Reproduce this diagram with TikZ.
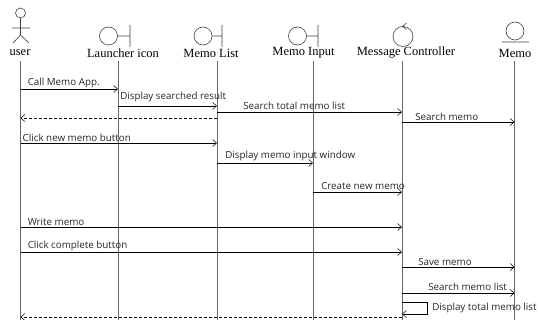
\documentclass[tikz,border=0pt]{standalone}
\usepackage{fontspec}
\setmainfont{Liberation Serif}
\newfontfamily\msgfont{Open Sans}
\usetikzlibrary{arrows.meta}

\begin{document}
\begin{tikzpicture}[x=1pt, y=-1pt, font=\fontsize{12.5}{14}\selectfont,
    msg/.style={draw, -{Straight Barb[length=4pt, width=7pt]}, line width=0.5pt},
    ret/.style={msg, dash pattern=on 3pt off 2pt},
    life/.style={draw, black!60, line width=0.9pt},
    icon/.style={draw, black!75, line width=0.6pt},
    lbl/.style={font=\msgfont\fontsize{9.8}{11}\selectfont, anchor=south west, inner sep=1pt, text=black!85}]
    \useasboundingbox (0,0) rectangle (538,320);
    % Place heads
    \node (user) at (20,53) {user};
    \node (launch) at (123,53) {Launcher icon};
    \node (mlist) at (211,53) {Memo List};
    \node (minput) at (303.5,53) {Memo Input};
    \node (ctrl) at (406,53) {Message Controller};
    \node (memo) at (515,53) {Memo};
    % Icons
    \path [icon] (20.5,13) circle (5);
    \path [icon] (20.5,18) -- (20.5,35) (12,28) -- (30,28) (13,43) -- (20.5,35) -- (29,43);
    \path [icon] (108.5,36) circle (9) (117.5,36) -- (130,36) (130,25) -- (130,47);
    \path [icon] (203,36) circle (9) (212,36) -- (222,36) (222,25) -- (222,47);
    \path [icon] (297.5,36) circle (9) (306.5,36) -- (318,36) (318,25) -- (318,47);
    \path [icon] (403,36.5) circle (10) (406.5,23) -- (402.5,26.5) -- (406.5,29.5);
    \path [icon] (515,31) circle (9) (502,42) -- (529,42);
    % Lifelines
    \coordinate (userL) at (20.5,61);
    \coordinate (launchL) at (118,61);
    \coordinate (mlistL) at (217,61);
    \coordinate (minputL) at (313,61);
    \coordinate (ctrlL) at (402,61);
    \coordinate (memoL) at (514.5,61);
    \coordinate (bot) at (0,320);
    \foreach \l in {userL, launchL, mlistL, minputL, ctrlL, memoL}
        \path [life] (\l) -- (\l |- bot);
    % Messages
    \path [msg] (userL |- 0,89) -- node [lbl, at start, xshift=6pt] {Call Memo App.} (launchL |- 0,89);
    \path [msg] (launchL |- 0,106) -- node [lbl, at start, xshift=1pt, yshift=3pt] {Display searched result} (mlistL |- 0,106);
    \path [msg] (mlistL |- 0,112) -- node [lbl, at start, xshift=25pt, yshift=1pt] {Search total memo list} (ctrlL |- 0,112);
    \path [ret] (mlistL |- 0,118) -- (userL |- 0,118);
    \path [msg] (ctrlL |- 0,122) -- node [lbl, at start, xshift=12pt] {Search memo} (memoL |- 0,122);
    \path [msg] (userL |- 0,143) -- node [lbl, at start, xshift=1pt] {Click new memo button} (mlistL |- 0,143);
    \path [msg] (mlistL |- 0,163) -- node [lbl, at start, xshift=7pt, yshift=1pt] {Display memo input window} (minputL |- 0,163);
    \path [msg] (minputL |- 0,192) -- node [lbl, at start, xshift=7pt, yshift=1pt] {Create new memo} (ctrlL |- 0,192);
    \path [msg] (userL |- 0,227) -- node [lbl, at start, xshift=6pt] {Write memo} (ctrlL |- 0,227);
    \path [msg] (userL |- 0,252) -- node [lbl, at start, xshift=6pt] {Click complete button} (ctrlL |- 0,252);
    \path [msg] (ctrlL |- 0,267) -- node [lbl, at start, xshift=15pt] {Save memo} (memoL |- 0,267);
    \path [msg] (ctrlL |- 0,293) -- node [lbl, at start, xshift=25pt, yshift=1pt] {Search memo list} (memoL |- 0,293);
    \path [msg] (ctrlL |- 0,302) -- ++(25,0) -- node [lbl, anchor=west, midway, xshift=4pt] {Display total memo list} ++(0,12) -- (ctrlL |- 0,314);
    \path [ret] (ctrlL |- 0,317) -- (userL |- 0,317);
\end{tikzpicture}
\end{document}
